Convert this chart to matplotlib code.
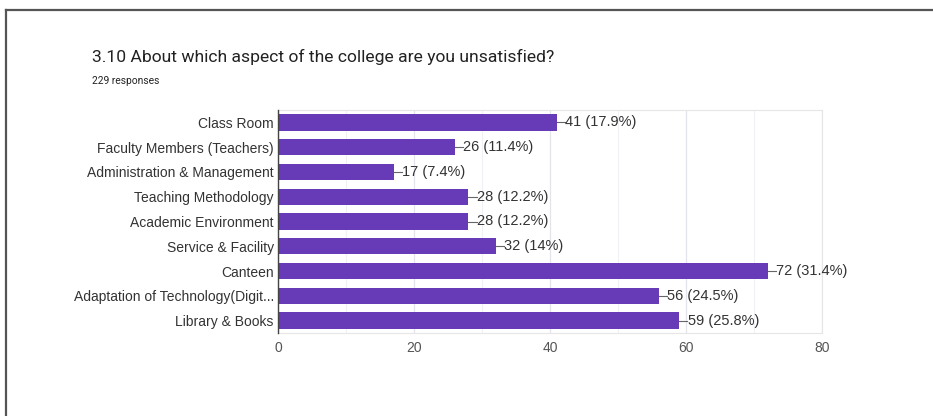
import matplotlib.pyplot as plt
from matplotlib.lines import Line2D

categories = [
    "Class Room",
    "Faculty Members (Teachers)",
    "Administration & Management",
    "Teaching Methodology",
    "Academic Environment",
    "Service & Facility",
    "Canteen",
    "Adaptation of Technology(Digit...",
    "Library & Books",
]
counts = [41, 26, 17, 28, 28, 32, 72, 56, 59]
percents = ["17.9%", "11.4%", "7.4%", "12.2%", "12.2%", "14%", "31.4%", "24.5%", "25.8%"]
x_ticks = [0, 20, 40, 60, 80]

BAR = "#673AB7"
TEXT = "#333333"
LABEL_FONT = ["Liberation Sans", "DejaVu Sans"]

fig = plt.figure(figsize=(9.33, 4.16), dpi=100)
fig.patch.set_facecolor("white")

# page frame of the scanned form
fig.add_artist(Line2D([6 / 933, 1.0], [1 - 10 / 416, 1 - 10 / 416], transform=fig.transFigure,
                      color="#555555", lw=1.6))
fig.add_artist(Line2D([6 / 933, 6 / 933], [0, 1 - 10 / 416], transform=fig.transFigure,
                      color="#555555", lw=1.6))

fig.text(92 / 933, 1 - 57 / 416, "3.10 About which aspect of the college are you unsatisfied?",
         fontsize=12.6, family=["Roboto", "DejaVu Sans"], color="#222222", va="center", ha="left")
fig.text(92 / 933, 1 - 81 / 416, "229 responses", fontsize=7.4, family=["Roboto", "DejaVu Sans"],
         color="#222222", va="center", ha="left")

ax = fig.add_axes([278 / 933, 1 - 333 / 416, (822 - 278) / 933, (333 - 110) / 416])
y = list(range(len(categories)))
ax.barh(y, counts, height=0.66, color=BAR, zorder=3)
ax.set_ylim(len(categories) - 0.5, -0.5)
ax.set_xlim(0, 80)
ax.set_yticks(y)
ax.set_yticklabels(categories, fontsize=10, color=TEXT, family=LABEL_FONT)
ax.set_xticks(x_ticks)
ax.set_xticklabels([str(t) for t in x_ticks], fontsize=10, color="#555555", family=LABEL_FONT)
ax.tick_params(axis="y", length=0, pad=3)
ax.tick_params(axis="x", length=0, pad=6)
ax.set_xticks([10, 30, 50, 70], minor=True)
ax.tick_params(axis="x", which="minor", length=0)
ax.grid(axis="x", which="major", color="#e4e4ec", lw=0.9, zorder=0)
ax.grid(axis="x", which="minor", color="#f1f1f5", lw=0.8, zorder=0)

for side in ["top", "right", "bottom"]:
    ax.spines[side].set_color("#e6e6e6")
    ax.spines[side].set_linewidth(0.8)
ax.spines["left"].set_color("#444444")
ax.spines["left"].set_linewidth(1.0)
ax.spines["left"].set_zorder(4)

for yi, c, p in zip(y, counts, percents):
    ax.plot([c, c + 1.2], [yi, yi], color="#666666", lw=0.8, zorder=4, clip_on=False)
    ax.text(c + 1.25, yi, f"{c} ({p})", fontsize=10.5, color=TEXT, va="center", ha="left",
            family=LABEL_FONT, zorder=4, clip_on=False)

fig.savefig("out.png", dpi=100)
